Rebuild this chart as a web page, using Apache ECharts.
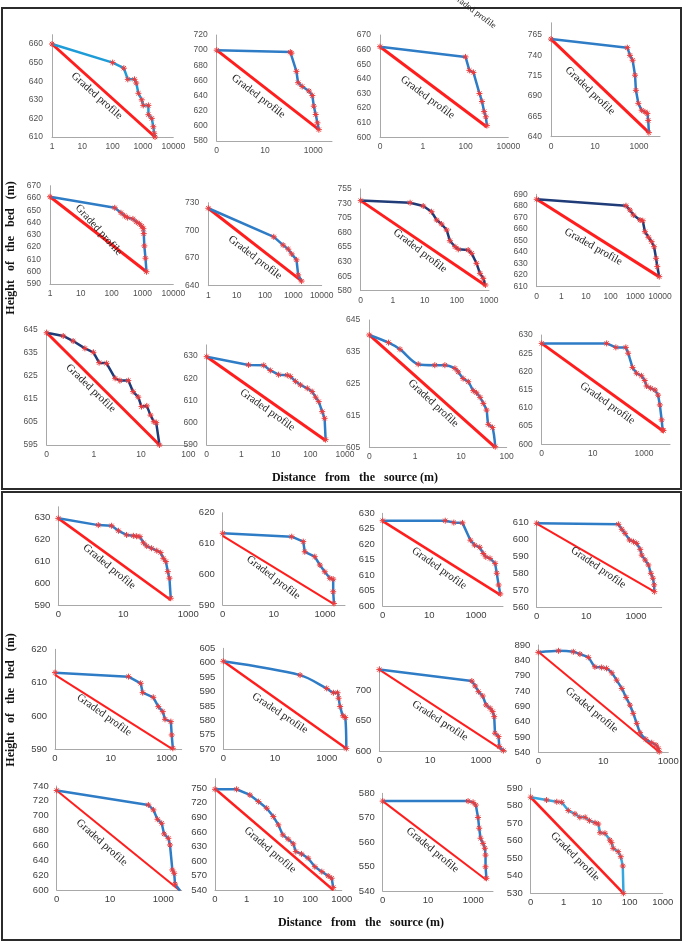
<!DOCTYPE html>
<html><head><meta charset="utf-8">
<script src="https://cdn.jsdelivr.net/npm/echarts@6/dist/echarts.min.js"></script>
<style>html,body{margin:0;padding:0;background:#fff}#c{width:685px;height:942px}</style>
</head><body><div id="c"></div>
<script>
// ---------- DATA (distance from source in m, height of bed in m) ----------
// Top block
const T1_X = [1, 100, 234, 316, 525, 600, 708, 912, 1020, 1510, 1510, 1950, 2190, 2340, 2500];
const T1_Y = [660, 650, 647, 641, 641, 639, 633.5, 630, 627, 627, 622, 620, 615.5, 612, 610];
const T1_RX = [1, 2500], T1_RY = [660, 610];
const T1_XT = [1, 10, 100, 1000, 10000], T1_YT = [610, 660, 10];

const T2_X = [0.1, 112, 125, 200, 234, 347, 661, 912, 1050, 1260, 1480, 1700];
const T2_Y = [700, 697.4, 696, 672, 657, 652, 646, 640, 626, 615, 604, 595];
const T2_RX = [0.1, 1700], T2_RY = [700, 595];
const T2_XT = [0.1, 10, 1000], T2_YT = [580, 720, 20];

const T3_X = [0.01, 100, 151, 234, 447, 589, 741, 891, 1000];
const T3_Y = [662, 655, 645.8, 644.4, 630, 624.5, 617.6, 614, 608];
const T3_RX = [0.01, 1000], T3_RY = [662, 607];
const T3_XT = [0.01, 1, 100, 10000], T3_YT = [600, 670, 10];

const T4_X = [0.1, 295, 389, 513, 661, 724, 933, 1320, 1860, 2400, 2630, 2820];
const T4_Y = [760, 749.4, 740, 734, 715.6, 697, 681, 672.6, 670.5, 668.6, 660, 645];
const T4_RX = [0.1, 2820], T4_RY = [760, 645];
const T4_XT = [0.1, 10, 1000], T4_YT = [640, 765, 25];

const T5_X = [1, 126, 200, 263, 330, 490, 630, 794, 950, 1070, 1100, 1150, 1250, 1350];
const T5_Y = [661, 652, 648, 645.5, 644, 643, 640.5, 639, 637, 635, 631, 621, 611, 600];
const T5_RX = [1, 1350], T5_RY = [661, 600];
const T5_XT = [1, 10, 100, 1000, 10000], T5_YT = [590, 670, 10];

const T6_X = [1, 204, 437, 661, 871, 1290, 1480, 1950];
const T6_Y = [724, 693, 684, 679.6, 674.5, 668, 651.7, 645];
const T6_RX = [1, 2000], T6_RY = [724, 645];
const T6_XT = [1, 10, 100, 1000, 10000], T6_YT = [640, 730, 30];

const T7_X = [0.1, 3.47, 8.9, 16.2, 23.4, 33.1, 47.9, 60.3, 87.1, 110, 224, 288, 407, 525, 661, 776];
const T7_Y = [735, 731.4, 725.7, 715.9, 701.6, 694.8, 684.4, 666, 655.7, 651.2, 650, 644.3, 627.1, 609.9, 601.3, 589.8];
const T7_RX = [0.1, 776], T7_RY = [735, 589];
const T7_XT = [0.1, 1, 10, 100, 1000], T7_YT = [580, 755, 25];

const T8_X = [0.1, 417, 603, 832, 1550, 2000, 2450, 3390, 4570, 5750, 6920, 7760, 9330];
const T8_Y = [685.7, 680.1, 676.4, 672.1, 667.7, 667.1, 657.6, 652.8, 649, 644.6, 634.6, 627.4, 618.7];
const T8_RX = [0.1, 9330], T8_RY = [685.7, 618.5];
const T8_XT = [0.1, 1, 10, 100, 1000, 10000], T8_YT = [610, 690, 10];

const T9_X = [0.1, 0.224, 0.363, 0.646, 0.977, 1.29, 1.86, 2.82, 3.55, 5.37, 6.76, 8.71, 10.2, 13.2, 15.8, 18.6, 20.9, 24.5];
const T9_Y = [643.8, 642.4, 640.2, 637, 635.3, 630.8, 630.5, 624, 623, 623, 618.2, 615.8, 611.7, 612, 608, 605.1, 604.7, 595];
const T9_RX = [0.1, 24.5], T9_RY = [643.8, 595];
const T9_XT = [0.1, 1, 10, 100], T9_YT = [595, 645, 10];

const T10_X = [0.1, 1.62, 4.47, 6.92, 12, 21.4, 26.3, 37.2, 51.3, 81.3, 112, 141, 174, 219, 257, 275];
const T10_Y = [629.7, 626, 625.8, 623.5, 621.6, 621.4, 620.8, 618.6, 617, 615.5, 614, 611.5, 609.5, 605, 602, 592.4];
const T10_RX = [0.1, 275], T10_RY = [629.7, 592];
const T10_XT = [0.1, 1, 10, 100, 1000], T10_YT = [590, 630, 10];

const T11_X = [0.1, 0.263, 0.468, 1.17, 2.69, 4.47, 7.41, 8.71, 11.2, 14.5, 18.6, 21.9, 26.3, 30.9, 36.3, 39.8, 49, 56.2];
const T11_Y = [640.3, 637.9, 635.8, 631.1, 630.8, 630.8, 629.8, 628.7, 626.6, 625.6, 622.8, 622.1, 620.7, 618.8, 616.7, 612.2, 611.2, 605.2];
const T11_RX = [0.1, 56.2], T11_RY = [640.3, 605];
const T11_XT = [0.1, 1, 10, 100], T11_YT = [605, 645, 10];

const T12_X = [0.1, 34.7, 79.4, 195, 240, 355, 513, 794, 1070, 1260, 1820, 2690, 3550, 4170, 4900, 5370, 5750];
const T12_Y = [627.7, 627.7, 626.6, 626.6, 625, 621.1, 619.5, 618.8, 617.5, 616, 615.4, 614.9, 613.5, 610.8, 606.7, 603.9, 603.8];
const T12_RX = [0.1, 5750], T12_RY = [627.7, 603.6];
const T12_XT = [0.1, 10, 1000], T12_YT = [600, 630, 5];

// Bottom block
const B1_X = [0.1, 1.7, 4.37, 7.08, 12.6, 20.4, 25.7, 32.4, 41.7, 52.5, 74.1, 107, 141, 170, 204, 234, 263, 288];
const B1_Y = [629.7, 626.6, 626.3, 624, 622.1, 621.7, 621.5, 621.3, 618.5, 617, 616, 614.9, 614, 611.4, 609.9, 605.3, 602.3, 593.1];
const B1_RX = [0.1, 288], B1_RY = [629.7, 592.3];
const B1_XT = [0.1, 10, 1000], B1_YT = [590, 630, 10];

const B2_X = [0.1, 50.1, 141, 162, 398, 631, 977, 1550, 2090, 2090, 2240];
const B2_Y = [613.3, 612.2, 610.6, 607.3, 605.7, 603, 600.8, 598.7, 598.4, 594.3, 590.5];
const B2_RX = [0.1, 2240], B2_RY = [612.5, 590.3];
const B2_XT = [0.1, 10, 1000], B2_YT = [590, 620, 10];

const B3_X = [0.1, 47.9, 112, 263, 575, 871, 1450, 2040, 2630, 3980, 6610, 7760, 9330, 11000];
const B3_Y = [627.6, 627.6, 627, 626.9, 621.3, 619.7, 619, 617, 615.9, 615.4, 613.8, 610.6, 606.8, 603.9];
const B3_RX = [0.1, 11000], B3_RY = [627.5, 603.6];
const B3_XT = [0.1, 10, 1000], B3_YT = [600, 630, 5];

const B4_X = [0.1, 195, 269, 363, 550, 794, 1070, 1480, 1700, 2340, 3160, 3980, 4790, 5370, 5500];
const B4_Y = [609.4, 608.8, 605.9, 603.5, 599.6, 598.6, 597.6, 594.1, 590.7, 587.8, 584.9, 580, 577.1, 573.2, 569.2];
const B4_RX = [0.1, 5500], B4_RY = [609.2, 569.2];
const B4_XT = [0.1, 10, 1000], B4_YT = [560, 610, 10];

const B5_X = [0.1, 42.7, 117, 138, 331, 501, 724, 871, 1410, 1510, 1660];
const B5_Y = [613, 611.8, 609.8, 607, 605.6, 602.8, 601.3, 599, 598.3, 594.3, 590.3];
const B5_RX = [0.1, 1660], B5_RY = [612.3, 590];
const B5_XT = [0.1, 10, 1000], B5_YT = [590, 620, 10];

const B6_X = [0.1, 93.3, 1000, 1820, 2630, 2880, 3310, 4270, 5250, 5750];
const B6_Y = [600.5, 595.7, 591.1, 589.6, 589.6, 587.7, 584.8, 581.6, 581, 570.3];
const B6_RX = [0.1, 5750], B6_RY = [600.5, 570.3];
const B6_XT = [0.1, 10, 1000], B6_YT = [570, 605, 5];

const B7_X = [0.1, 437, 589, 794, 1170, 1580, 2290, 2880, 3310, 3550, 4900, 5250, 7590];
const B7_Y = [735, 716, 707.8, 698.4, 691.2, 676.3, 670.8, 665.3, 657, 629.5, 623.9, 607.4, 600.7];
const B7_RX = [0.1, 7590], B7_RY = [735, 600.5];
const B7_XT = [0.1, 10, 1000], B7_YT = [600, 700, 50];

const B8_X = [0.1, 0.417, 1.2, 1.91, 3.47, 5.5, 8.91, 12.6, 18.2, 25.7, 37.2, 50.1, 66.1, 83.2, 107, 135, 204, 309, 417, 490, 525];
const B8_Y = [866, 871, 867.8, 860.3, 849.5, 818.8, 816.8, 813.5, 799.3, 775.4, 748.3, 719, 693.9, 667, 634.4, 604, 582.4, 571.3, 563.8, 553, 542];
const B8_RX = [0.1, 525], B8_RY = [868, 541];
const B8_XT = [0.1, 10, 1000], B8_YT = [540, 890, 50];

const B9_X = [0.1, 275, 427, 603, 871, 1070, 1550, 1780, 2190, 2570, 2750, 4270];
const B9_Y = [734, 714.5, 707.8, 695.2, 689.8, 675.5, 669.6, 660.6, 627, 622.5, 608, 599];
const B9_RX = [0.1, 4270], B9_RY = [734, 599];
const B9_XT = [0.1, 10, 1000], B9_YT = [600, 740, 20];

const B10_X = [0.1, 0.479, 1.26, 2.34, 4.27, 6.92, 10, 13.8, 20.4, 29.5, 35.5, 53.7, 87.1, 141, 234, 372, 479, 537];
const B10_Y = [748, 748, 736.3, 722.6, 708.9, 691.6, 674.4, 653.8, 644.9, 635.2, 619.3, 614.5, 605.6, 588.2, 577.9, 569, 564.3, 545];
const B10_RX = [0.1, 537], B10_RY = [749, 540];
const B10_XT = [0.1, 1, 10, 100, 1000], B10_YT = [540, 750, 30];

const B11_X = [0.1, 589, 977, 1290, 1620, 1820, 2090, 2690, 3240, 3470, 3470, 3800];
const B11_Y = [576.8, 576.8, 576.3, 575.2, 570.1, 565.7, 561.6, 559.5, 557.5, 554.7, 549.9, 545.2];
const B11_RX = [0.1, 3800], B11_RY = [576.8, 544.5];
const B11_XT = [0.1, 10, 1000], B11_YT = [540, 580, 10];

const B12_X = [0.1, 0.302, 0.617, 0.871, 1.38, 2.19, 3.09, 4.47, 6.03, 8.91, 11.2, 12.6, 17.8, 25.1, 28.2, 31.6, 44.7, 53.7, 61.7, 64.6];
const B12_Y = [584.9, 583.3, 582.3, 582, 577.3, 575.4, 573.4, 573.4, 571.5, 570.3, 569.6, 564.6, 564.3, 560.4, 558.9, 555.7, 553.8, 550.9, 545.6, 530];
const B12_RX = [0.1, 64.6], B12_RY = [584.9, 530];
const B12_XT = [0.1, 1, 10, 100, 1000], B12_YT = [530, 590, 10];

const PANEL_DATA = {
  t1:[T1_X,T1_Y,T1_RX,T1_RY,T1_XT,T1_YT], t2:[T2_X,T2_Y,T2_RX,T2_RY,T2_XT,T2_YT],
  t3:[T3_X,T3_Y,T3_RX,T3_RY,T3_XT,T3_YT], t4:[T4_X,T4_Y,T4_RX,T4_RY,T4_XT,T4_YT],
  t5:[T5_X,T5_Y,T5_RX,T5_RY,T5_XT,T5_YT], t6:[T6_X,T6_Y,T6_RX,T6_RY,T6_XT,T6_YT],
  t7:[T7_X,T7_Y,T7_RX,T7_RY,T7_XT,T7_YT], t8:[T8_X,T8_Y,T8_RX,T8_RY,T8_XT,T8_YT],
  t9:[T9_X,T9_Y,T9_RX,T9_RY,T9_XT,T9_YT], t10:[T10_X,T10_Y,T10_RX,T10_RY,T10_XT,T10_YT],
  t11:[T11_X,T11_Y,T11_RX,T11_RY,T11_XT,T11_YT], t12:[T12_X,T12_Y,T12_RX,T12_RY,T12_XT,T12_YT],
  b1:[B1_X,B1_Y,B1_RX,B1_RY,B1_XT,B1_YT], b2:[B2_X,B2_Y,B2_RX,B2_RY,B2_XT,B2_YT],
  b3:[B3_X,B3_Y,B3_RX,B3_RY,B3_XT,B3_YT], b4:[B4_X,B4_Y,B4_RX,B4_RY,B4_XT,B4_YT],
  b5:[B5_X,B5_Y,B5_RX,B5_RY,B5_XT,B5_YT], b6:[B6_X,B6_Y,B6_RX,B6_RY,B6_XT,B6_YT],
  b7:[B7_X,B7_Y,B7_RX,B7_RY,B7_XT,B7_YT], b8:[B8_X,B8_Y,B8_RX,B8_RY,B8_XT,B8_YT],
  b9:[B9_X,B9_Y,B9_RX,B9_RY,B9_XT,B9_YT], b10:[B10_X,B10_Y,B10_RX,B10_RY,B10_XT,B10_YT],
  b11:[B11_X,B11_Y,B11_RX,B11_RY,B11_XT,B11_YT], b12:[B12_X,B12_Y,B12_RX,B12_RY,B12_XT,B12_YT]
};
const LABEL_TEXT = 'Graded profile';
const Y_TITLE = 'Height   of   the   bed   (m)';
const X_TITLE = 'Distance   from   the   source (m)';

// ---------- LAYOUT (pixels) ----------
// l: px of first x tick, lt: px of last x tick, re: px of axis end, t: px of top y label, b: px of y min
// yTop: axis top value if axis line extends past top label; tx,ty,ta: "Graded profile" label centre/angle
const BLUE = '#2F7CC6', NAVY = '#1F3B78', CYAN = '#1E9CD8';
const LAYOUT = {
  t1:{l:52,lt:173.3,re:173.3,t:44,b:137,yTop:665,tx:96.7,ty:95.8,ta:41.8,c:CYAN},
  t2:{l:216.7,lt:313.3,re:332,t:35,b:141,tx:258.3,ty:96.2,ta:37.5,c:BLUE},
  t3:{l:380,lt:508.3,re:508.3,t:35,b:137.3,tx:427.5,ty:97.5,ta:36.6,c:BLUE},
  t4:{l:551,lt:639,re:660,t:35,b:136.7,yTop:780,tx:590,ty:90.8,ta:44,c:BLUE},
  t5:{l:50,lt:173.3,re:173.3,t:185.7,b:284,tx:98.7,ty:230,ta:48,c:BLUE},
  t6:{l:208.3,lt:321.7,re:321.7,t:202.7,b:285.7,tx:255,ty:257.5,ta:37.5,c:BLUE},
  t7:{l:360.7,lt:489,re:489,t:189,b:290.7,tx:420,ty:250.8,ta:37.5,c:NAVY},
  t8:{l:536.7,lt:660,re:660,t:194.3,b:286.7,tx:593.3,ty:246.7,ta:29.4,c:NAVY},
  t9:{l:46.7,lt:188.3,re:188.3,t:330,b:445,tx:90.8,ty:388.3,ta:43.9,c:NAVY},
  t10:{l:206.7,lt:345,re:345,t:356,b:445,yTop:635,tx:267.5,ty:410,ta:35.4,c:BLUE},
  t11:{l:369.3,lt:506.7,re:506.7,t:320,b:447.3,tx:433.3,ty:403.3,ta:42.9,c:BLUE,smooth:0.3},
  t12:{l:541.7,lt:644,re:670,t:335,b:444.3,tx:607.5,ty:403.3,ta:35.4,c:BLUE},
  b1:{l:58.3,lt:188.3,re:190,t:517.7,b:605,yTop:635,tx:109.2,ty:566.7,ta:39.6,c:BLUE,rw:2.6},
  b2:{l:222.7,lt:325,re:345,t:512.7,b:605,tx:273.3,ty:577.5,ta:37.5,c:BLUE,rw:2},
  b3:{l:382.7,lt:476,re:503,t:513.3,b:606,tx:439.2,ty:568.3,ta:35.4,c:BLUE,rw:2.6},
  b4:{l:536.7,lt:636,re:661.7,t:522.3,b:607.3,tx:598.3,ty:567.5,ta:35,c:BLUE,rw:2},
  b5:{l:55,lt:166.7,re:181.7,t:649.3,b:749.3,tx:104.2,ty:715,ta:35.4,c:BLUE,rw:2},
  b6:{l:223.3,lt:326.7,re:347,t:648.3,b:749.3,tx:280,ty:713.3,ta:33.7,c:BLUE,rw:2.4,smooth:0.3},
  b7:{l:379.3,lt:481,re:506.7,t:690.7,b:751,yTop:740,tx:440,ty:720.8,ta:33.3,c:BLUE,rw:2},
  b8:{l:538.3,lt:668.3,re:668.3,t:645,b:752.3,tx:591.7,ty:710,ta:39.6,c:BLUE,rw:2,smooth:0.2},
  b9:{l:56.7,lt:163.3,re:181.7,t:786,b:890,tx:101.7,ty:842.5,ta:41.8,c:BLUE,rw:2},
  b10:{l:215,lt:341.8,re:341.8,t:788.3,b:890,yTop:770,tx:270,ty:850,ta:40.6,c:BLUE,rw:2.4},
  b11:{l:382.7,lt:473.3,re:493,t:793.3,b:891,tx:432.5,ty:850,ta:39.6,c:BLUE,rw:2},
  b12:{l:530.7,lt:662.7,re:662.7,t:788.3,b:893.3,tx:575,ty:856.7,ta:45,c:'#35A6DE',rw:2.6}
};

const ASTER = 'path://M0,5L10,5M5,0L5,10M1.5,1.5L8.5,8.5M8.5,1.5L1.5,8.5';
const lg = v => Math.round(Math.log10(v) * 1e6) / 1e6;

const grids = [], xAxes = [], yAxes = [], series = [], graphics = [];
Object.keys(PANEL_DATA).forEach((key, i) => {
  const [X, Y, RX, RY, XT, YT] = PANEL_DATA[key];
  const L = LAYOUT[key];
  const top = key[0] === 't';
  const fs = top ? 8.5 : 9.5;
  const lblColor = top ? '#505050' : '#404040';
  const xmin = lg(XT[0]), xlast = lg(XT[XT.length - 1]);
  const xint = lg(XT[1]) - xmin;
  const ppl = (L.lt - L.l) / (xlast - xmin);
  const xmax = xlast + (L.re - L.lt) / ppl;
  const yMin = YT[0], yLab = YT[1], yStep = YT[2];
  const yMax = L.yTop || yLab;
  const gTop = L.t - (yMax - yLab) / (yLab - yMin) * (L.b - L.t);
  grids.push({left: L.l, top: gTop, width: L.re - L.l, height: L.b - gTop, containLabel: false, outerBoundsMode: 'none'});
  const tickPos = XT.map(lg);
  xAxes.push({
    type: 'value', gridIndex: i, min: xmin, max: xmax, interval: xint,
    axisLine: {show: true, onZero: false, lineStyle: {color: '#A8A8A8', width: 1}},
    axisTick: {show: false}, splitLine: {show: false},
    axisLabel: {show: true, showMinLabel: true, showMaxLabel: true, fontSize: fs, color: lblColor,
      fontFamily: '"Liberation Sans", Arial, sans-serif', margin: top ? 5 : 4,
      formatter: v => { const k = tickPos.findIndex(p => Math.abs(p - v) < 1e-4); return k < 0 ? '' : (XT[k] < 1 ? '0' : String(XT[k])); }}
  });
  yAxes.push({
    type: 'value', gridIndex: i, min: yMin, max: yMax, interval: yStep,
    axisLine: {show: true, onZero: false, lineStyle: {color: '#A8A8A8', width: 1}},
    axisTick: {show: false}, splitLine: {show: false},
    axisLabel: {show: true, showMinLabel: true, showMaxLabel: true, fontSize: fs, color: lblColor,
      fontFamily: '"Liberation Sans", Arial, sans-serif', margin: top ? 9 : 8,
      formatter: v => { const q = (v - yMin) / yStep; return (v <= yLab + 1e-6 && Math.abs(q - Math.round(q)) < 1e-6) ? String(Math.round(v)) : ''; }}
  });
  series.push({
    type: 'line', xAxisIndex: i, yAxisIndex: i, silent: true, z: 2,
    data: RX.map((x, j) => [lg(x), RY[j]]), showSymbol: false, symbol: 'none',
    lineStyle: {color: '#FF1E1E', width: L.rw || 3}
  });
  series.push({
    type: 'line', xAxisIndex: i, yAxisIndex: i, silent: true, z: 3,
    data: X.map((x, j) => [lg(x), Y[j]]), smooth: L.smooth || false,
    symbol: ASTER, symbolSize: 6, showSymbol: true,
    itemStyle: {color: 'rgba(0,0,0,0)', borderColor: '#F03A3A', borderWidth: 1},
    lineStyle: {color: L.c, width: 2.5}
  });
  graphics.push({
    type: 'text', x: L.tx, y: L.ty, rotation: -L.ta * Math.PI / 180, z: 10,
    style: {text: LABEL_TEXT, font: '11px "Liberation Serif", "Times New Roman", serif', fill: '#222',
      align: 'center', verticalAlign: 'middle', textAlign: 'center', textVerticalAlign: 'middle'}
  });
});

// boxes, axis titles, stray label at top edge
graphics.push(
  {type: 'rect', shape: {x: 2, y: 8, width: 679, height: 481}, style: {fill: 'none', stroke: '#2b2b2b', lineWidth: 2}, z: 1},
  {type: 'rect', shape: {x: 2, y: 492, width: 679, height: 448}, style: {fill: 'none', stroke: '#2b2b2b', lineWidth: 2}, z: 1},
  {type: 'text', x: 11, y: 248, rotation: Math.PI / 2, z: 10,
   style: {text: Y_TITLE, font: 'bold 12px "Liberation Serif", serif', fill: '#111', align: 'center', verticalAlign: 'middle', textAlign: 'center', textVerticalAlign: 'middle'}},
  {type: 'text', x: 11, y: 700, rotation: Math.PI / 2, z: 10,
   style: {text: Y_TITLE, font: 'bold 12px "Liberation Serif", serif', fill: '#111', align: 'center', verticalAlign: 'middle', textAlign: 'center', textVerticalAlign: 'middle'}},
  {type: 'text', x: 355, y: 478, z: 10,
   style: {text: X_TITLE, font: 'bold 12px "Liberation Serif", serif', fill: '#111', align: 'center', verticalAlign: 'middle', textAlign: 'center', textVerticalAlign: 'middle'}},
  {type: 'text', x: 361, y: 923, z: 10,
   style: {text: X_TITLE, font: 'bold 12px "Liberation Serif", serif', fill: '#111', align: 'center', verticalAlign: 'middle', textAlign: 'center', textVerticalAlign: 'middle'}},
  {type: 'text', x: 474, y: 11, rotation: -37 * Math.PI / 180, z: 10,
   style: {text: LABEL_TEXT, font: '9px "Liberation Serif", serif', fill: '#222', align: 'center', verticalAlign: 'middle', textAlign: 'center', textVerticalAlign: 'middle'}}
);

const chart = echarts.init(document.getElementById('c'), null, {renderer: 'canvas'});
chart.setOption({
  animation: false, backgroundColor: '#ffffff',
  grid: grids, xAxis: xAxes, yAxis: yAxes, series: series, graphic: {elements: graphics}
});
</script></body></html>
